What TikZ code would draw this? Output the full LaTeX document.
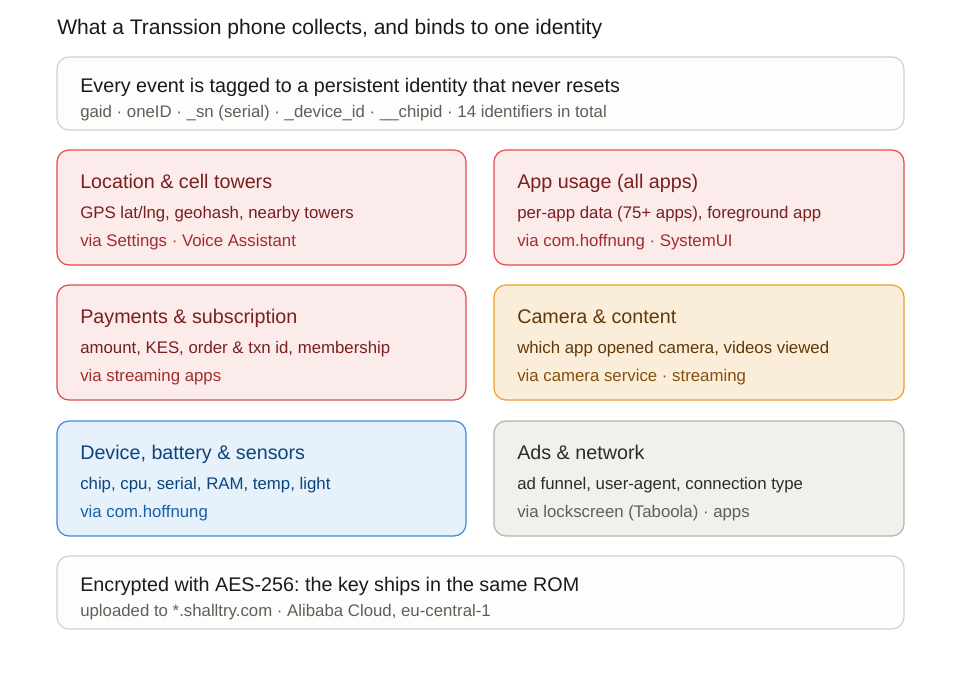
\documentclass[tikz,border=0pt]{standalone}
\usepackage{fontspec}
\setmainfont{Liberation Sans}
\frenchspacing
\definecolor{redfill}{HTML}{FCEBEB}
\definecolor{redline}{HTML}{E24B4A}
\definecolor{redhead}{HTML}{791F1F}
\definecolor{redtext}{HTML}{A32D2D}
\definecolor{orfill}{HTML}{FAEEDA}
\definecolor{orline}{HTML}{EF9F27}
\definecolor{orhead}{HTML}{633806}
\definecolor{ortext}{HTML}{854F0B}
\definecolor{blfill}{HTML}{E6F1FB}
\definecolor{blline}{HTML}{378ADD}
\definecolor{blhead}{HTML}{0C447C}
\definecolor{bltext}{HTML}{185FA5}
\definecolor{grfill}{HTML}{F1F0EC}
\definecolor{grline}{HTML}{B4B2A9}
\definecolor{grhead}{HTML}{2C2C2A}
\definecolor{grtext}{HTML}{5F5E5A}
\definecolor{wline}{HTML}{D3D1C7}
\definecolor{wfill}{HTML}{FDFDFC}
\definecolor{ink}{HTML}{1A1A1A}
\tikzset{
  box/.style={rounded corners=9pt, line width=0.9pt},
  txt/.style={anchor=base west, inner sep=0pt},
  head/.style={txt, font=\fontsize{14.8}{17}\selectfont},
  sub/.style={txt, font=\fontsize{12.6}{15}\selectfont},
  ttl/.style={txt, font=\fontsize{15.8}{19}\selectfont, text=ink},
}
\begin{document}
\begin{tikzpicture}[x=0.75pt,y=-0.75pt]
\fill[white] (0,0) rectangle (960,686);
\useasboundingbox (0,0) rectangle (960,686);
\node[ttl] (title) at (57,34) {What a Transsion phone collects, and binds to one identity};

% top box
\draw[box, draw=wline, fill=wfill] (57,57) rectangle (904,130);
\node[head, text=ink] (topH) at (80,92) {Every event is tagged to a persistent identity that never resets};
\node[sub, text=grtext] (topS) at (80,117) {gaid · oneID · \_sn (serial) · \_device\_id · \_\_chipid · 14 identifiers in total};

% row 1
\draw[box, draw=redline, fill=redfill] (57,150) rectangle (466,265);
\node[head, text=redhead] (locH) at (80,188) {Location \& cell towers};
\node[sub, text=redhead] (locA) at (80,218) {GPS lat/lng, geohash, nearby towers};
\node[sub, text=redtext] (locB) at (80,246) {via Settings · Voice Assistant};

\draw[box, draw=redline, fill=redfill] (494,150) rectangle (904,265);
\node[head, text=redhead] (appH) at (517,188) {App usage (all apps)};
\node[sub, text=redhead] (appA) at (517,218) {per-app data (75+ apps), foreground app};
\node[sub, text=redtext] (appB) at (517,246) {via com.hoffnung · SystemUI};

% row 2
\draw[box, draw=redline, fill=redfill] (57,285) rectangle (466,400);
\node[head, text=redhead] (payH) at (80,323) {Payments \& subscription};
\node[sub, text=redhead] (payA) at (80,353) {amount, KES, order \& txn id, membership};
\node[sub, text=redtext] (payB) at (80,381) {via streaming apps};

\draw[box, draw=orline, fill=orfill] (494,285) rectangle (904,400);
\node[head, text=orhead] (camH) at (517,323) {Camera \& content};
\node[sub, text=orhead] (camA) at (517,353) {which app opened camera, videos viewed};
\node[sub, text=ortext] (camB) at (517,381) {via camera service · streaming};

% row 3
\draw[box, draw=blline, fill=blfill] (57,421) rectangle (466,536);
\node[head, text=blhead] (devH) at (80,459) {Device, battery \& sensors};
\node[sub, text=blhead] (devA) at (80,489) {chip, cpu, serial, RAM, temp, light};
\node[sub, text=bltext] (devB) at (80,517) {via com.hoffnung};

\draw[box, draw=grline, fill=grfill] (494,421) rectangle (904,536);
\node[head, text=grhead] (adsH) at (517,459) {Ads \& network};
\node[sub, text=grhead] (adsA) at (517,489) {ad funnel, user-agent, connection type};
\node[sub, text=grtext] (adsB) at (517,517) {via lockscreen (Taboola) · apps};

% bottom box
\draw[box, draw=wline, fill=wfill] (57,556) rectangle (904,629);
\node[head, text=ink] (botH) at (80,591) {Encrypted with AES-256: the key ships in the same ROM};
\node[sub, text=grtext] (botS) at (80,616) {uploaded to *.shalltry.com · Alibaba Cloud, eu-central-1};
\end{tikzpicture}
\end{document}
